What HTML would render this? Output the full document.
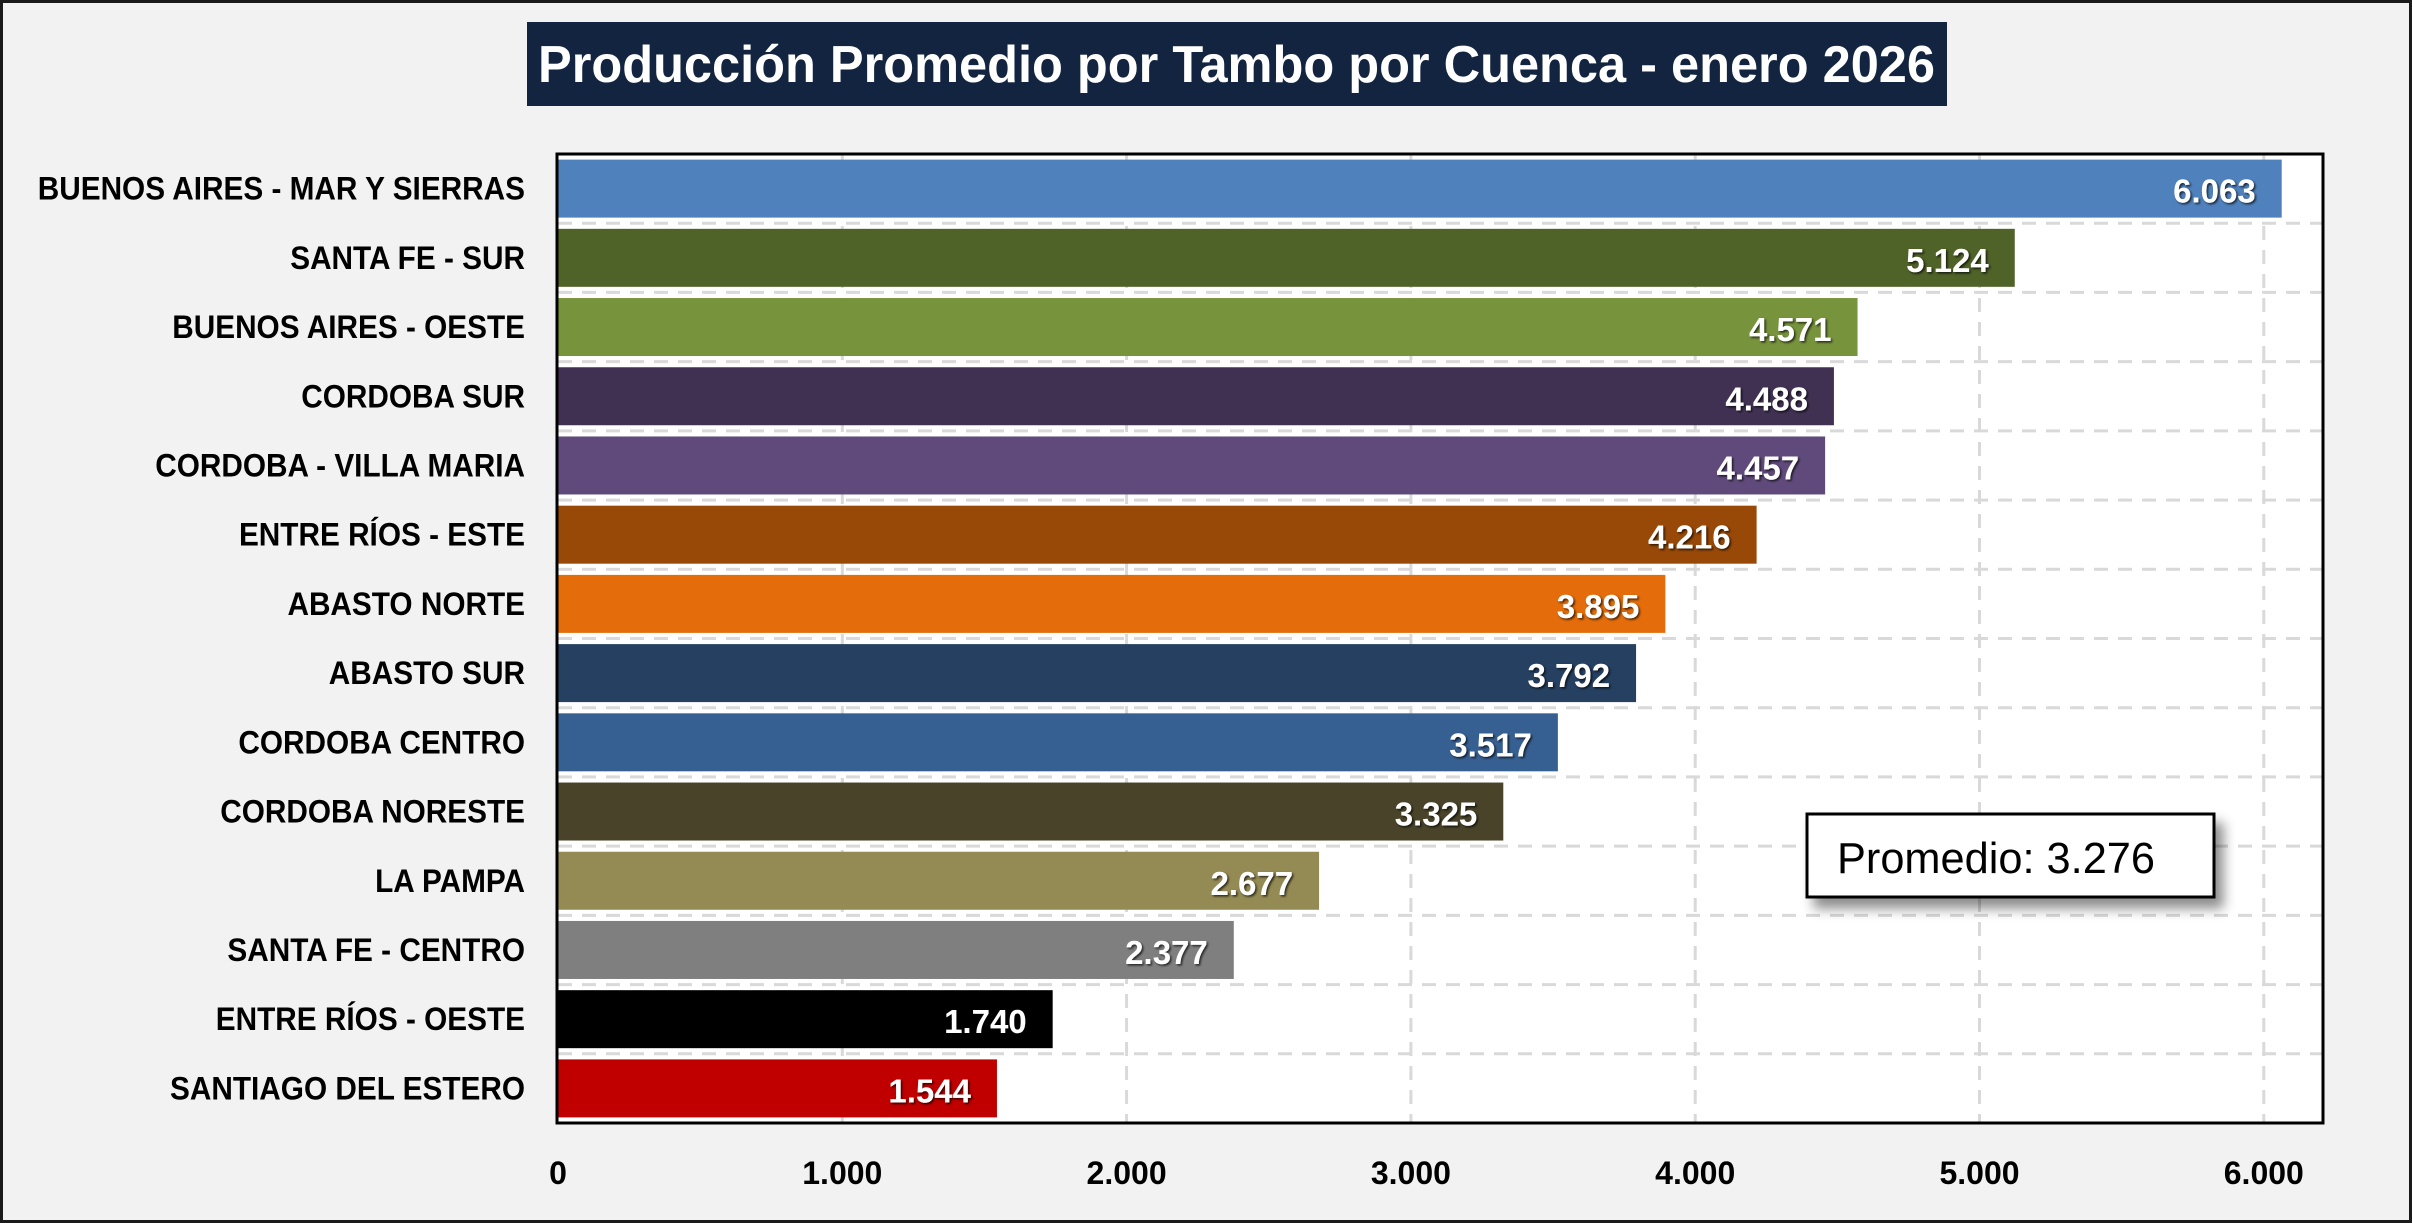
<!DOCTYPE html>
<html><head><meta charset="utf-8"><style>
html,body{margin:0;padding:0;background:#f2f2f2;}
body{width:2412px;height:1223px;overflow:hidden;position:relative;font-family:"Liberation Sans",sans-serif;}
#frame{position:absolute;left:0;top:0;width:2406px;height:1217px;border:3px solid #1a1a1a;}
</style></head><body>
<div id="frame"></div>
<svg id="chart" width="2412" height="1223" style="position:absolute;left:0;top:0">
<defs>
<filter id="sh" x="-10%" y="-10%" width="130%" height="150%"><feDropShadow dx="8" dy="10" stdDeviation="6" flood-color="#000" flood-opacity="0.45"/></filter>
<filter id="ts"><feDropShadow dx="1.5" dy="1.5" stdDeviation="1" flood-color="#000" flood-opacity="0.7"/></filter>
</defs>
<rect x="527" y="22" width="1420" height="84" fill="#12243f"/>
<text id="title" x="538" y="82" fill="#fff" font-size="52" font-weight="bold" textLength="1397" lengthAdjust="spacingAndGlyphs">Producción Promedio por Tambo por Cuenca - enero 2026</text>
<rect x="557" y="154" width="1766" height="969" fill="#fff"/>
<g id="grid"></g>
<g id="bars"></g>
<rect x="557" y="154" width="1766" height="969" fill="none" stroke="#000" stroke-width="3"/>
<g id="labels"></g>
<g id="ticks"></g>
<g>
<rect x="1807" y="814" width="407" height="83" fill="#fff" stroke="#000" stroke-width="3" filter="url(#sh)"/>
<text x="1837" y="873" font-size="44" fill="#000" textLength="318" lengthAdjust="spacingAndGlyphs">Promedio: 3.276</text>
</g>
</svg>
<script>
const categories=["BUENOS AIRES - MAR Y SIERRAS","SANTA FE - SUR","BUENOS AIRES - OESTE","CORDOBA SUR","CORDOBA - VILLA MARIA","ENTRE RÍOS - ESTE","ABASTO NORTE","ABASTO SUR","CORDOBA CENTRO","CORDOBA NORESTE","LA PAMPA","SANTA FE - CENTRO","ENTRE RÍOS - OESTE","SANTIAGO DEL ESTERO"];
const values=[6063,5124,4571,4488,4457,4216,3895,3792,3517,3325,2677,2377,1740,1544];
const valueLabels=["6.063","5.124","4.571","4.488","4.457","4.216","3.895","3.792","3.517","3.325","2.677","2.377","1.740","1.544"];
const colors=["#4f81bd","#4f6228","#77933c","#403152","#604a7b","#984807","#e46c0a","#254061","#376092","#494429","#948a54","#7f7f7f","#000000","#c00000"];
const ticks=[0,1000,2000,3000,4000,5000,6000];
const tickLabels=["0","1.000","2.000","3.000","4.000","5.000","6.000"];
const NS="http://www.w3.org/2000/svg";
const X0=558,PX=284.3,TOP=154,BAND=969/categories.length,BH=58;
const x=v=>X0+v*PX/1000;
const yc=i=>TOP+BAND*(i+0.5);
function mk(t,a,p){const e=document.createElementNS(NS,t);for(const k in a)e.setAttribute(k,a[k]);p.appendChild(e);return e;}
function squeeze(e,f){const L=e.getComputedTextLength();e.setAttribute('textLength',L*f);e.setAttribute('lengthAdjust','spacingAndGlyphs');}
const grid=document.getElementById('grid'),bars=document.getElementById('bars'),labels=document.getElementById('labels'),tk=document.getElementById('ticks');
ticks.forEach((t,i)=>{
 if(t>0){const l=mk('line',{x1:x(t),x2:x(t),y1:TOP,y2:TOP+969,stroke:'#d9d9d9','stroke-width':3,'stroke-dasharray':'14,10'},grid);
 
 }
 const tx=mk('text',{x:x(t),y:1184,'text-anchor':'middle','font-size':32,'font-weight':'bold',fill:'#000'},tk);
 tx.textContent=tickLabels[i];
 
 
});
for(let i=1;i<categories.length;i++){
 const l=mk('line',{x1:X0,x2:2323,y1:TOP+BAND*i,y2:TOP+BAND*i,stroke:'#d9d9d9','stroke-width':3,'stroke-dasharray':'14,10'},grid);
 
 
}
categories.forEach((c,i)=>{
 const r=mk('rect',{x:X0,y:yc(i)-BH/2,width:x(values[i])-X0,height:BH,fill:colors[i]},bars);
 
 
 const v=mk('text',{x:x(values[i])-26,y:yc(i)+14,'text-anchor':'end','font-size':33,'font-weight':'bold',fill:'#fff',filter:'url(#ts)'},labels);
 v.textContent=valueLabels[i];
 
 
 const cl=mk('text',{x:525,y:yc(i)+11,'text-anchor':'end','font-size':32,'font-weight':'bold',fill:'#000'},labels);
 cl.textContent=c;
 
 
 squeeze(cl,0.93);
});
</script>
</body></html>
